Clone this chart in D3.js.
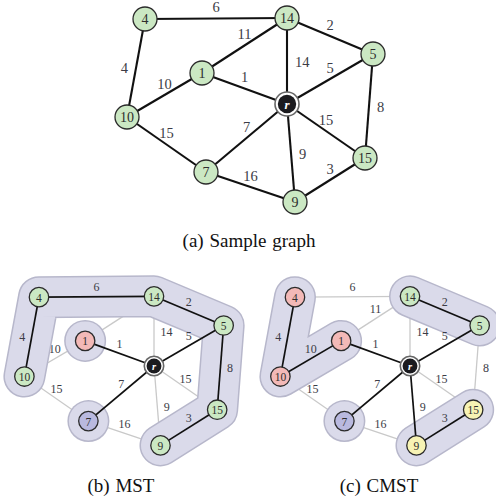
<!DOCTYPE html>
<html>
<head>
<meta charset="utf-8">
<script src="https://cdn.jsdelivr.net/npm/d3@7"></script>
<style>
  body { margin: 0; background: #fff; }
  svg { display: block; }
</style>
</head>
<body>
<svg id="chart" width="496" height="504"></svg>
<script>
// Graph: node ids and their layout coordinates (root r at the origin)
const nodeIds = ["r", "1", "4", "5", "7", "9", "10", "14", "15"];
const nodeU   = [0, -85, -142, 86, -81, 8, -160, 0, 78];
const nodeV   = [0, -31, -85, -50, 68, 98, 13, -86, 54];

// Weighted edges
const edgeSource = ["4", "4", "14", "14", "14", "1", "1", "r", "r", "r", "r", "10", "7", "9", "5"];
const edgeTarget = ["14", "10", "1", "5", "r", "10", "r", "5", "15", "7", "9", "7", "9", "15", "15"];
const edgeWeight = [6, 4, 11, 2, 14, 10, 1, 5, 15, 7, 9, 15, 16, 3, 8];

// Spanning trees (as edge keys) and their node groupings
const mstEdges  = ["4-14", "4-10", "14-5", "5-15", "9-15", "1-r", "r-5", "r-7"];
const cmstEdges = ["4-10", "10-1", "1-r", "14-5", "r-5", "r-7", "r-9", "9-15"];
const mstGroups  = [["10", "4", "14", "5", "15", "9"], ["1"], ["7"]];
const cmstGroups = [["4", "10", "1"], ["14", "5"], ["15", "9"], ["7"]];
const mstColors  = ["green", "pink", "blue"];
const cmstColors = ["pink", "green", "yellow", "blue"];

const captions = ["(a) Sample graph", "(b) MST", "(c) CMST"];

// ---- presentation ----
const labelSide = ["above", "left", "above", "above", "right", "above", "above", "above",
                   "above", "above", "right", "above", "above", "above", "right"];
const fills = { green: "#cbe8c3", pink: "#f3b9b7", blue: "#b9b9df", yellow: "#f7f3b4" };
const serif = '"Liberation Serif", "Times New Roman", serif';

const svg = d3.select("#chart");
const U = {}, V = {};
nodeIds.forEach((id, i) => { U[id] = nodeU[i]; V[id] = nodeV[i]; });
const edges = edgeSource.map((s, i) => ({ s, t: edgeTarget[i], w: edgeWeight[i], side: labelSide[i] }));
const key = (a, b) => [a, b].sort().join("|");

const panels = [
  { cx: 287, cy: 104, k: 1.0,  tree: null, groups: null, colors: null, cap: [249, 247] },
  { cx: 154, cy: 366, k: 0.81, tree: mstEdges, groups: mstGroups, colors: mstColors, cap: [121, 492] },
  { cx: 410, cy: 366, k: 0.81, tree: cmstEdges, groups: cmstGroups, colors: cmstColors, cap: [379, 492] }
];

panels.forEach((p, pi) => {
  const g = svg.append("g");
  const x = d3.scaleLinear().domain([0, 1]).range([p.cx, p.cx + p.k]);
  const y = d3.scaleLinear().domain([0, 1]).range([p.cy, p.cy + p.k]);
  const px = id => x(U[id]), py = id => y(V[id]);
  const k = p.k;
  const treeSet = p.tree ? new Set(p.tree.map(e => key(...e.split("-")))) : null;
  const inTree = e => !treeSet || treeSet.has(key(e.s, e.t));
  const fontEdge = k < 1 ? 12 : 14.5;

  const nodeColor = {};
  nodeIds.forEach(id => nodeColor[id] = "green");
  if (p.groups) p.groups.forEach((grp, gi) => grp.forEach(id => nodeColor[id] = p.colors[gi]));

  function drawLabels(list) {
    list.forEach(e => {
      const mx = (px(e.s) + px(e.t)) / 2, my = (py(e.s) + py(e.t)) / 2;
      const t = g.append("text")
        .style("font-family", serif)
        .attr("font-size", fontEdge)
        .attr("fill", "#3c3c46")
        .attr("dominant-baseline", "central")
        .text(e.w);
      if (e.side === "above") t.attr("x", mx).attr("y", my - 11.5 * k).attr("text-anchor", "middle");
      else if (e.side === "left") t.attr("x", mx - 8 * k).attr("y", my).attr("text-anchor", "end");
      else t.attr("x", mx + 8 * k).attr("y", my + 1 * k).attr("text-anchor", "start");
    });
  }

  const nonTree = edges.filter(e => !inTree(e));
  const tree = edges.filter(inTree);

  // light edges outside the tree
  g.selectAll(".light").data(nonTree).join("line")
    .attr("x1", e => px(e.s)).attr("y1", e => py(e.s))
    .attr("x2", e => px(e.t)).attr("y2", e => py(e.t))
    .attr("stroke", "#c9c9c9").attr("stroke-width", 1.3);
  drawLabels(nonTree);

  // group hulls
  if (p.groups) {
    const R = 20;
    const line = d3.line().x(px).y(py);
    [["#b7b7cb", 2 * R + 2], ["#dadaea", 2 * R - 1]].forEach(([col, w]) => {
      p.groups.forEach(grp => {
        if (grp.length > 1) {
          g.append("path").attr("d", line(grp)).attr("fill", "none")
            .attr("stroke", col).attr("stroke-width", w)
            .attr("stroke-linejoin", "round").attr("stroke-linecap", "round");
        } else {
          g.append("circle").attr("cx", px(grp[0])).attr("cy", py(grp[0]))
            .attr("r", w / 2).attr("fill", col);
        }
      });
    });
  }

  // tree (or full graph) edges
  g.selectAll(".dark").data(tree).join("line")
    .attr("x1", e => px(e.s)).attr("y1", e => py(e.s))
    .attr("x2", e => px(e.t)).attr("y2", e => py(e.t))
    .attr("stroke", "#111").attr("stroke-width", k < 1 ? 1.7 : 2.1);
  drawLabels(tree);

  // nodes
  const nr = 12 * k;
  nodeIds.forEach(id => {
    const cx = px(id), cy = py(id);
    if (id === "r") {
      g.append("circle").attr("cx", cx).attr("cy", cy).attr("r", nr)
        .attr("fill", "#fff").attr("stroke", "#666").attr("stroke-width", 1.6);
      g.append("circle").attr("cx", cx).attr("cy", cy).attr("r", nr - 2.8 * k)
        .attr("fill", "#1b1b1f");
      g.append("text").attr("x", cx).attr("y", cy).attr("dy", "0.05em")
        .attr("text-anchor", "middle").attr("dominant-baseline", "central")
        .style("font-family", serif).attr("font-style", "italic").attr("font-weight", "bold")
        .attr("font-size", 13 * k).attr("fill", "#fff").text("r");
    } else {
      g.append("circle").attr("cx", cx).attr("cy", cy).attr("r", nr)
        .attr("fill", fills[nodeColor[id]]).attr("stroke", "#2b2b2b").attr("stroke-width", 1.3);
      g.append("text").attr("x", cx).attr("y", cy).attr("dy", "0.05em")
        .attr("text-anchor", "middle").attr("dominant-baseline", "central")
        .style("font-family", serif)
        .attr("font-size", k < 1 ? 11.5 : 14).attr("fill", "#2e2e2e").text(id);
    }
  });

  // caption
  svg.append("text").attr("x", p.cap[0]).attr("y", p.cap[1])
    .attr("text-anchor", "middle")
    .style("font-family", serif)
    .attr("font-size", 19).attr("fill", "#111").attr("word-spacing", "1px")
    .text(captions[pi]);
});
</script>
</body>
</html>
